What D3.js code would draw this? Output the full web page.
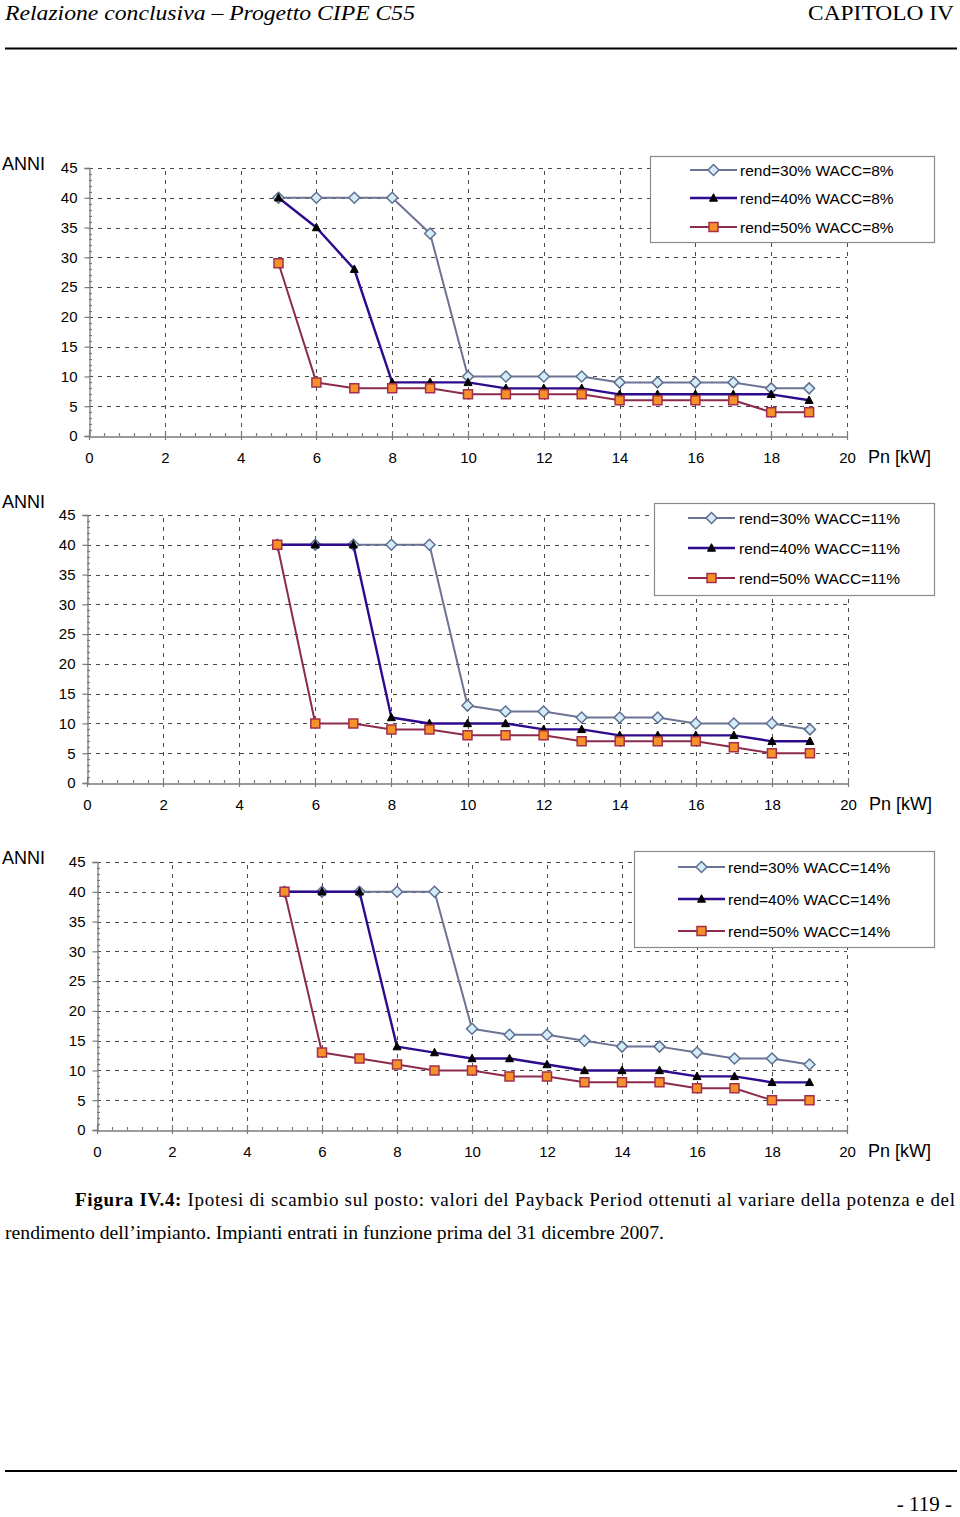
<!DOCTYPE html>
<html>
<head>
<meta charset="utf-8">
<script src="https://cdn.jsdelivr.net/npm/d3@7"></script>
<style>
  html, body { margin: 0; padding: 0; background: #fff; }
  svg { display: block; }
</style>
</head>
<body>
<svg id="page" width="960" height="1517"></svg>
<script>
// ---------------- DATA ----------------
const powerKW = [5, 6, 7, 8, 9, 10, 11, 12, 13, 14, 15, 16, 17, 18, 19];
const xTickValues = [0, 2, 4, 6, 8, 10, 12, 14, 16, 18, 20];
const yTickValues = [0, 5, 10, 15, 20, 25, 30, 35, 40, 45];

const wacc8_rend30 = [40, 40, 40, 40, 34, 10, 10, 10, 10, 9, 9, 9, 9, 8, 8];
const wacc8_rend40 = [40, 35, 28, 9, 9, 9, 8, 8, 8, 7, 7, 7, 7, 7, 6];
const wacc8_rend50 = [29, 9, 8, 8, 8, 7, 7, 7, 7, 6, 6, 6, 6, 4, 4];

const wacc11_rend30 = [40, 40, 40, 40, 40, 13, 12, 12, 11, 11, 11, 10, 10, 10, 9];
const wacc11_rend40 = [40, 40, 40, 11, 10, 10, 10, 9, 9, 8, 8, 8, 8, 7, 7];
const wacc11_rend50 = [40, 10, 10, 9, 9, 8, 8, 8, 7, 7, 7, 7, 6, 5, 5];

const wacc14_rend30 = [40, 40, 40, 40, 40, 17, 16, 16, 15, 14, 14, 13, 12, 12, 11];
const wacc14_rend40 = [40, 40, 40, 14, 13, 12, 12, 11, 10, 10, 10, 9, 9, 8, 8];
const wacc14_rend50 = [40, 13, 12, 11, 10, 10, 9, 9, 8, 8, 8, 7, 7, 5, 5];

const rendLabels = ["rend=30%", "rend=40%", "rend=50%"];
const waccLabels = ["WACC=8%", "WACC=11%", "WACC=14%"];
const yAxisTitle = "ANNI";
const xAxisTitle = "Pn [kW]";

// ---------------- STYLES / LAYOUT ----------------
const seriesStyle = [
  { line: "#6c7394", width: 2,   marker: "diamond",  fill: "#d3ecf8", stroke: "#5f6f90" },
  { line: "#2d0b8c", width: 2.4, marker: "triangle", fill: "#000000", stroke: "#000000" },
  { line: "#8c2b4d", width: 2,   marker: "square",   fill: "#f5902a", stroke: "#a3304a" }
];

const charts = [
  { data: [wacc8_rend30, wacc8_rend40, wacc8_rend50], wacc: waccLabels[0],
    x: [89, 847], y: [436, 168], anniY: 163,
    legend: { x0: 650, x1: 934, y0: 156, y1: 242, rows: [170, 198, 227], l0: 690, l1: 737, tx: 740 } },
  { data: [wacc11_rend30, wacc11_rend40, wacc11_rend50], wacc: waccLabels[1],
    x: [87, 848], y: [783, 515], anniY: 501,
    legend: { x0: 654, x1: 934, y0: 503, y1: 595, rows: [518, 548, 578], l0: 688, l1: 735, tx: 739 } },
  { data: [wacc14_rend30, wacc14_rend40, wacc14_rend50], wacc: waccLabels[2],
    x: [97, 847], y: [1130, 862], anniY: 857,
    legend: { x0: 634, x1: 934, y0: 851, y1: 947, rows: [867, 899, 931], l0: 678, l1: 725, tx: 728 } }
];

const svg = d3.select("#page");
const sans = "'Liberation Sans', Arial, sans-serif";
const serif = "'Liberation Serif', 'Times New Roman', serif";

function markerPath(type) {
  if (type === "diamond") return "M0,-5.5L5.5,0L0,5.5L-5.5,0Z";
  if (type === "square") return "M-4.5,-4.5H4.5V4.5H-4.5Z";
  return "M0,-4.3L4,3.2H-4Z";
}

// ---------------- HEADER ----------------
svg.append("text").attr("x", 5).attr("y", 20)
  .attr("font-family", serif).attr("font-style", "italic").attr("font-size", 22)
  .attr("textLength", 410).attr("lengthAdjust", "spacingAndGlyphs")
  .text("Relazione conclusiva – Progetto CIPE C55");
svg.append("text").attr("x", 954).attr("y", 20).attr("text-anchor", "end")
  .attr("font-family", serif).attr("font-size", 22)
  .attr("textLength", 146).attr("lengthAdjust", "spacingAndGlyphs")
  .text("CAPITOLO IV");
svg.append("line").attr("x1", 5).attr("x2", 957).attr("y1", 48.5).attr("y2", 48.5)
  .attr("stroke", "#000").attr("stroke-width", 2);

// ---------------- CHARTS ----------------
charts.forEach(cfg => {
  const x = d3.scaleLinear().domain([0, 20]).range(cfg.x);
  const y = d3.scaleLinear().domain([0, 45]).range(cfg.y);
  const g = svg.append("g");

  // grid
  const grid = g.append("g").attr("stroke", "#4a4a4a").attr("stroke-width", 1)
    .attr("stroke-dasharray", "4,5").attr("fill", "none");
  yTickValues.filter(v => v > 0).forEach(v => {
    grid.append("line").attr("x1", x(0)).attr("x2", x(20))
      .attr("y1", Math.round(y(v)) + 0.5).attr("y2", Math.round(y(v)) + 0.5);
  });
  xTickValues.filter(v => v > 0).forEach(v => {
    grid.append("line").attr("y1", y(0)).attr("y2", y(45))
      .attr("x1", Math.round(x(v)) + 0.5).attr("x2", Math.round(x(v)) + 0.5);
  });

  // axes via d3
  const xAxis = d3.axisBottom(x).tickValues(xTickValues).tickSize(0).tickPadding(16)
    .tickFormat(d3.format("d"));
  const xg = g.append("g").attr("transform", `translate(0,${Math.round(y(0)) + 0.5})`).call(xAxis);
  xg.select(".domain").attr("stroke", "#7a7a7a").attr("stroke-width", 1.3);
  xg.selectAll("text").attr("font-family", sans).attr("font-size", 15).attr("fill", "#000");

  const yAxis = d3.axisLeft(y).tickValues(yTickValues).tickSize(5).tickPadding(7)
    .tickFormat(d3.format("d"));
  const yg = g.append("g").attr("transform", `translate(${Math.round(x(0)) + 0.5},0)`).call(yAxis);
  yg.select(".domain").attr("stroke", "#7a7a7a").attr("stroke-width", 1.3);
  yg.selectAll(".tick line").attr("stroke", "#7a7a7a").attr("stroke-width", 1.2);
  yg.selectAll("text").attr("font-family", sans).attr("font-size", 15).attr("fill", "#000");

  // major x ticks crossing axis, minor ticks
  const tk = g.append("g").attr("stroke", "#7a7a7a").attr("stroke-width", 1.2);
  xTickValues.forEach(v => {
    const px = Math.round(x(v)) + 0.5;
    tk.append("line").attr("x1", px).attr("x2", px).attr("y1", y(0) - 5).attr("y2", y(0) + 4);
  });
  d3.range(0, 20.001, 0.4).forEach(v => {
    if (Math.abs(v / 2 - Math.round(v / 2)) < 1e-6) return;
    const px = Math.round(x(v)) + 0.5;
    tk.append("line").attr("x1", px).attr("x2", px).attr("y1", y(0) - 3).attr("y2", y(0));
  });
  d3.range(1, 45).forEach(v => {
    if (v % 5 === 0) return;
    const py = Math.round(y(v)) + 0.5;
    tk.append("line").attr("x1", x(0)).attr("x2", x(0) + 3).attr("y1", py).attr("y2", py);
  });

  // axis titles
  g.append("text").attr("x", 2).attr("y", cfg.anniY + 6.5)
    .attr("font-family", sans).attr("font-size", 18).text(yAxisTitle);
  g.append("text").attr("x", x(20) + 21).attr("y", y(0) + 27)
    .attr("font-family", sans).attr("font-size", 18).text(xAxisTitle);

  // series
  const lineGen = d3.line().x(d => x(d[0])).y(d => y(d[1]));
  cfg.data.forEach((vals, i) => {
    const st = seriesStyle[i];
    const pts = powerKW.map((p, k) => [p, vals[k]]);
    g.append("path").datum(pts).attr("d", lineGen)
      .attr("fill", "none").attr("stroke", st.line).attr("stroke-width", st.width)
      .attr("stroke-linejoin", "round");
    g.selectAll(null).data(pts).enter().append("path")
      .attr("transform", d => `translate(${x(d[0])},${y(d[1])})`)
      .attr("d", markerPath(st.marker))
      .attr("fill", st.fill).attr("stroke", st.stroke)
      .attr("stroke-width", st.marker === "triangle" ? 1 : 1.5);
  });

  // legend
  const L = cfg.legend;
  g.append("rect").attr("x", L.x0 + 0.5).attr("y", L.y0 + 0.5)
    .attr("width", L.x1 - L.x0).attr("height", L.y1 - L.y0)
    .attr("fill", "#fff").attr("stroke", "#8a8a8a").attr("stroke-width", 1.2);
  rendLabels.forEach((lab, i) => {
    const st = seriesStyle[i];
    const ry = L.rows[i];
    g.append("line").attr("x1", L.l0).attr("x2", L.l1).attr("y1", ry).attr("y2", ry)
      .attr("stroke", st.line).attr("stroke-width", st.width);
    g.append("path").attr("transform", `translate(${(L.l0 + L.l1) / 2},${ry})`)
      .attr("d", markerPath(st.marker))
      .attr("fill", st.fill).attr("stroke", st.stroke)
      .attr("stroke-width", st.marker === "triangle" ? 1 : 1.5);
    g.append("text").attr("x", L.tx).attr("y", ry + 5.5)
      .attr("font-family", sans).attr("font-size", 15.5)
      .text(lab + " " + cfg.wacc);
  });
});

// ---------------- CAPTION ----------------
const cap1 = svg.append("text").attr("x", 75).attr("y", 1206)
  .attr("font-family", serif).attr("font-size", 19)
  .attr("textLength", 880).attr("lengthAdjust", "spacing");
cap1.append("tspan").attr("font-weight", "bold").text("Figura IV.4:");
cap1.append("tspan").text(" Ipotesi di scambio sul posto: valori del Payback Period ottenuti al variare della potenza e del");
svg.append("text").attr("x", 5).attr("y", 1239)
  .attr("font-family", serif).attr("font-size", 19)
  .attr("textLength", 659).attr("lengthAdjust", "spacingAndGlyphs")
  .text("rendimento dell’impianto. Impianti entrati in funzione prima del 31 dicembre 2007.");

// ---------------- FOOTER ----------------
svg.append("line").attr("x1", 5).attr("x2", 957).attr("y1", 1471).attr("y2", 1471)
  .attr("stroke", "#000").attr("stroke-width", 2);
svg.append("text").attr("x", 952).attr("y", 1511).attr("text-anchor", "end")
  .attr("font-family", serif).attr("font-size", 21).text("- 119 -");
</script>
</body>
</html>
